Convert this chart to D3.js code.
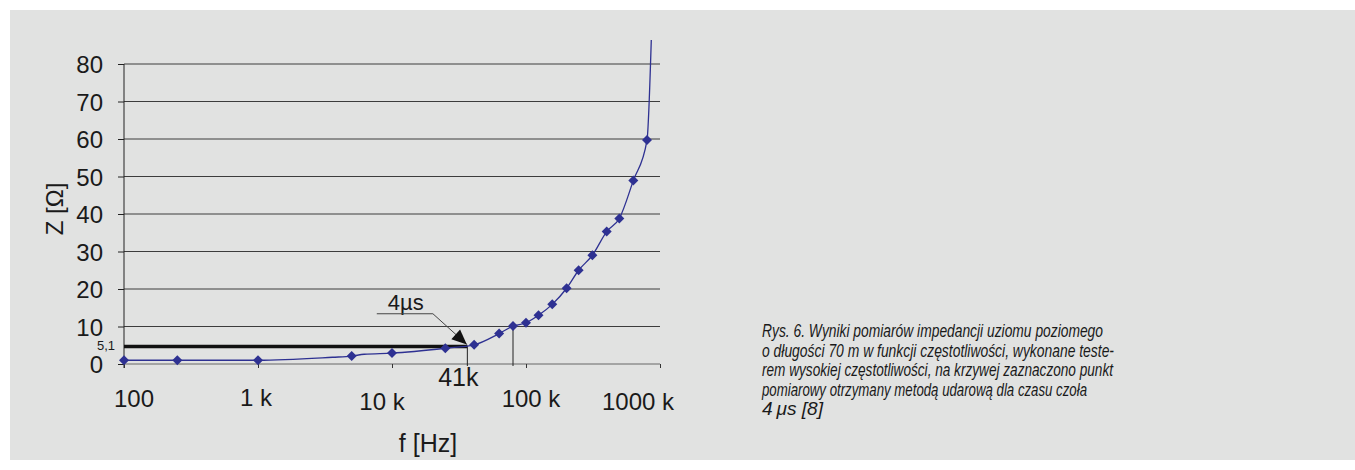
<!DOCTYPE html>
<html>
<head>
<meta charset="utf-8">
<script src="https://cdn.jsdelivr.net/npm/d3@7/dist/d3.min.js"></script>
<style>
  body { margin: 0; background: #fff; }
  svg { display: block; }
  text { font-family: "Liberation Sans", Arial, sans-serif; fill: #1a1a1a; }
</style>
</head>
<body>
<svg id="chart" width="1355" height="470"></svg>
<script>
// measured points, f in Hz, Z in ohm (marked = drawn with a diamond)
const freq = [100, 250, 1000, 3600, 5000, 6200, 10000, 25000, 41000, 63000, 80000,
              100000, 124000, 157000, 201000, 247000, 313000, 400000, 497000,
              632000, 800000, 861000];
const impedance = [1.0, 1.0, 1.0, 1.8, 2.1, 2.6, 2.9, 4.2, 5.1, 8.1, 10.1,
                   11.0, 13.0, 15.9, 20.2, 25.0, 29.0, 35.3, 38.8,
                   48.9, 59.7, 86.4];
const marked = [1, 1, 1, 0, 1, 0, 1, 1, 1, 1, 1, 1, 1, 1, 1, 1, 1, 1, 1, 1, 1, 0];

const xTicks = [100, 1e3, 1e4, 1e5, 1e6];
const xTickLabels = ['100', '1 k', '10 k', '100 k', '1000 k'];
const yTicks = [0, 10, 20, 30, 40, 50, 60, 70, 80];

// annotation values
const refZ = 5.1;
const dropFreq = [36500, 80000];
const pulseLabel = '4\u00b5s';
const pulseFreqLabel = '41k';

const caption = [
    'Rys. 6. Wyniki pomiarów impedancji uziomu poziomego',
    'o długości 70 m w funkcji częstotliwości, wykonane teste-',
    'rem wysokiej częstotliwości, na krzywej zaznaczono punkt',
    'pomiarowy otrzymany metodą udarową dla czasu czoła',
    '4\u2009\u03bcs [8]'
];

const svg = d3.select('#chart');
const blue = '#2e3192';

svg.append('rect')
    .attr('x', 10).attr('y', 10)
    .attr('width', 1345).attr('height', 450)
    .attr('fill', '#e1e2e1');

const x = d3.scaleLog().domain([100, 1e6]).range([124, 660]);
const y = d3.scaleLinear().domain([0, 80]).range([364, 64]);

const g = svg.append('g');

// horizontal grid
g.selectAll('line.grid')
    .data(yTicks.filter(d => d > 0))
    .join('line')
    .attr('class', 'grid')
    .attr('x1', x(100)).attr('x2', x(1e6))
    .attr('y1', d => y(d)).attr('y2', d => y(d))
    .attr('stroke', '#3c3c3c')
    .attr('stroke-width', 1);

// y axis
const yAxis = g.append('g')
    .attr('transform', `translate(${x(100)},0)`)
    .call(d3.axisLeft(y).tickValues(yTicks).tickSize(6).tickPadding(15));
yAxis.select('.domain').attr('d', `M0,${y(80)}V${y(0) + 4}`).attr('stroke', '#222');
yAxis.selectAll('.tick line').attr('stroke', '#222');
yAxis.selectAll('.tick text')
    .style('font-size', '24px')
    .attr('fill', '#1a1a1a')
    .attr('dy', '0.36em');

// x axis
const xAxis = g.append('g')
    .attr('transform', `translate(0,${y(0)})`)
    .call(d3.axisBottom(x).tickValues(xTicks).tickSize(4).tickFormat(''));
xAxis.select('.domain').attr('d', `M${x(100)},0H${x(1e6)}`).attr('stroke', '#666');
xAxis.selectAll('.tick line').attr('stroke', '#333');

const nudgeX = [10, -2, -10, 5, -22];
const nudgeY = [43, 42, 46, 43, 46];
g.selectAll('text.xlab')
    .data(xTicks)
    .join('text')
    .attr('class', 'xlab')
    .attr('x', (d, i) => x(d) + nudgeX[i])
    .attr('y', (d, i) => y(0) + nudgeY[i])
    .attr('text-anchor', 'middle')
    .style('font-size', '24px')
    .text((d, i) => xTickLabels[i]);

// axis titles
g.append('text')
    .attr('transform', `translate(63,209) rotate(-90)`)
    .attr('text-anchor', 'middle')
    .style('font-size', '24px')
    .text('Z [\u03a9]');

g.append('text')
    .attr('x', 428).attr('y', 452)
    .attr('text-anchor', 'middle')
    .style('font-size', '25px')
    .text('f [Hz]');

// reference level 5,1
g.append('line')
    .attr('x1', x(100)).attr('x2', x(dropFreq[0]))
    .attr('y1', y(refZ) + 1.5).attr('y2', y(refZ) + 1.5)
    .attr('stroke', '#111')
    .attr('stroke-width', 3.5);

g.append('text')
    .attr('x', 115).attr('y', y(refZ) + 5.5)
    .attr('text-anchor', 'end')
    .style('font-size', '13px')
    .text('5,1');

// drop lines
g.selectAll('line.drop')
    .data(dropFreq)
    .join('line')
    .attr('class', 'drop')
    .attr('x1', d => x(d)).attr('x2', d => x(d))
    .attr('y1', (d, i) => i === 0 ? y(refZ) + 1 : y(10.1))
    .attr('y2', y(0) + 2)
    .attr('stroke', '#222')
    .attr('stroke-width', 1);

g.append('text')
    .attr('x', x(dropFreq[0]) - 9).attr('y', 386)
    .attr('text-anchor', 'middle')
    .style('font-size', '25px')
    .text(pulseFreqLabel);

// 4us label with leader and arrow
const lx0 = x(7700), lx1 = x(20200), ly = y(13.4);
g.append('text')
    .attr('x', lx0 + 11).attr('y', ly - 4)
    .style('font-size', '22px')
    .text(pulseLabel);

const tip = [x(dropFreq[0]) - 0.5, y(refZ) - 0.5];
g.append('path')
    .attr('d', `M${lx0},${ly}H${lx1}L${tip[0]},${tip[1]}`)
    .attr('fill', 'none')
    .attr('stroke', '#444')
    .attr('stroke-width', 1);

const dx = tip[0] - lx1, dy = tip[1] - ly, len = Math.hypot(dx, dy);
const ux = dx / len, uy = dy / len;
const hl = 15, hw = 6.5;
const bx = tip[0] - ux * hl, by = tip[1] - uy * hl;
g.append('path')
    .attr('d', `M${tip[0]},${tip[1]}L${bx - uy * hw},${by + ux * hw}L${bx + uy * hw},${by - ux * hw}Z`)
    .attr('fill', '#111');

// curve
const pts = freq.map((f, i) => ({ f: f, z: impedance[i], m: marked[i] }));

g.append('path')
    .datum(pts)
    .attr('d', d3.line().x(d => x(d.f)).y(d => y(d.z)).curve(d3.curveMonotoneX))
    .attr('fill', 'none')
    .attr('stroke', blue)
    .attr('stroke-width', 1.3);

g.selectAll('path.pt')
    .data(pts.filter(d => d.m))
    .join('path')
    .attr('class', 'pt')
    .attr('d', d3.symbol().type(d3.symbolSquare).size(50))
    .attr('transform', d => `translate(${x(d.f)},${y(d.z)}) rotate(45)`)
    .attr('fill', blue);

// caption
const cap = svg.append('g')
    .style('font-family', '"Roboto", "Liberation Sans", sans-serif')
    .style('font-style', 'italic')
    .style('font-size', '19px');
const capWidth = [341, 352, 351, 325, 61];
cap.selectAll('text')
    .data(caption)
    .join('text')
    .attr('x', 762)
    .attr('y', (d, i) => 337 + i * 19.5)
    .attr('textLength', (d, i) => capWidth[i])
    .attr('lengthAdjust', 'spacingAndGlyphs')
    .attr('fill', '#222')
    .text(d => d);
</script>
</body>
</html>
